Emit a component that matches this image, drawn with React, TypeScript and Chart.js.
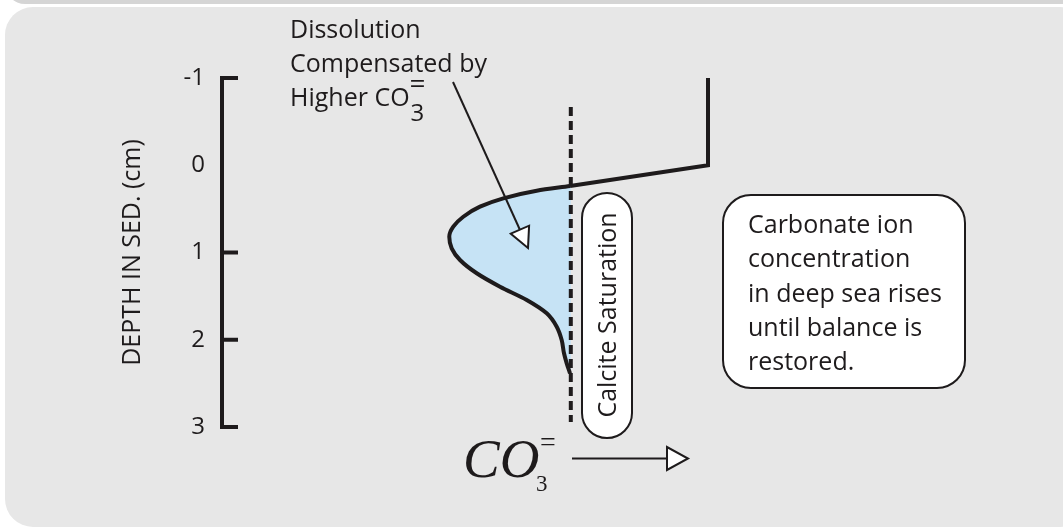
import React, { useEffect, useRef } from "react";
import { Chart, registerables } from "chart.js";

Chart.register(...registerables);

// ---- data ----
const depthTicks = [-1, 0, 1, 2, 3];
const tickMarkDepths = [-1, 1, 2, 3];
const depthRange = [-1, 3];
const co3Range = [0, 100];

// water column + sediment surface segment
const surfaceDepth = [-1, 0, 0.238];
const surfaceCO3 = [60.75, 60.75, 43.5];

// pore-water carbonate ion profile
const profileDepth = [0.238, 0.292, 0.379, 0.475, 0.59, 0.704, 0.819, 0.952, 1.086, 1.238, 1.392, 1.544, 1.697, 1.85, 2.003, 2.155, 2.27, 2.384];
const profileCO3 = [43.5, 39.34, 35.16, 32.25, 30.16, 28.91, 28.41, 28.71, 29.75, 31.84, 34.75, 38.09, 40.59, 41.84, 42.46, 42.75, 43.09, 43.5];

// calcite saturation level
const saturationCO3 = 43.6;
const saturationDepth = [-0.668, 2.943];

const INK = "#1e1b1c";
const SANS = '"Open Sans", "Noto Sans", sans-serif';
const SERIF = '"Liberation Serif", "DejaVu Serif", serif';

const boxLines = ["Carbonate ion", "concentration", "in deep sea rises", "until balance is", "restored."];
const noteLines = ["Dissolution", "Compensated by", "Higher CO"];

function rrect(ctx: CanvasRenderingContext2D, x: number, y: number, w: number, h: number, r: number) {
  ctx.beginPath();
  ctx.moveTo(x + r, y);
  ctx.lineTo(x + w - r, y);
  ctx.arcTo(x + w, y, x + w, y + r, r);
  ctx.lineTo(x + w, y + h - r);
  ctx.arcTo(x + w, y + h, x + w - r, y + h, r);
  ctx.lineTo(x + r, y + h);
  ctx.arcTo(x, y + h, x, y + h - r, r);
  ctx.lineTo(x, y + r);
  ctx.arcTo(x, y, x + r, y, r);
  ctx.closePath();
}

function hollowHead(ctx: CanvasRenderingContext2D, pts: number[][]) {
  ctx.beginPath();
  ctx.moveTo(pts[0][0], pts[0][1]);
  ctx.lineTo(pts[1][0], pts[1][1]);
  ctx.lineTo(pts[2][0], pts[2][1]);
  ctx.closePath();
  ctx.fillStyle = "#ffffff";
  ctx.fill();
  ctx.strokeStyle = INK;
  ctx.lineWidth = 2;
  ctx.lineJoin = "miter";
  ctx.stroke();
}

const backgroundPlugin = {
  id: "panelBackground",
  beforeDraw(chart: any) {
    const ctx = chart.ctx as CanvasRenderingContext2D;
    ctx.save();
    ctx.fillStyle = "#ffffff";
    ctx.fillRect(0, 0, chart.width, chart.height);
    ctx.fillStyle = "#d5d5d5";
    rrect(ctx, 5, -40, chart.width + 40, 44, 20);
    ctx.fill();
    ctx.fillStyle = "#e7e7e7";
    rrect(ctx, 5, 7, chart.width + 20, chart.height - 9, 28);
    ctx.fill();
    ctx.restore();
  },
};

const annotationPlugin = {
  id: "annotations",
  afterDraw(chart: any) {
    const ctx = chart.ctx as CanvasRenderingContext2D;
    const yScale = chart.scales.y;
    const axisX = yScale.right;
    ctx.save();

    // inward tick marks on depth axis
    ctx.strokeStyle = INK;
    ctx.lineWidth = 4;
    ctx.lineCap = "butt";
    tickMarkDepths.forEach((d) => {
      const py = yScale.getPixelForValue(d);
      ctx.beginPath();
      ctx.moveTo(axisX - 2, py);
      ctx.lineTo(axisX + 16, py);
      ctx.stroke();
    });

    // note text
    ctx.fillStyle = INK;
    ctx.textAlign = "left";
    ctx.textBaseline = "alphabetic";
    ctx.font = `25px ${SANS}`;
    noteLines.forEach((t, i) => ctx.fillText(t, 290, 38 + i * 34));
    const w = ctx.measureText(noteLines[2]).width;
    ctx.font = `24px ${SANS}`;
    ctx.fillText("3", 290 + w + 1, 121);
    ctx.font = `28px ${SANS}`;
    ctx.fillText("=", 290 + w, 93);

    // arrow into dissolution area
    ctx.strokeStyle = INK;
    ctx.lineWidth = 2;
    ctx.beginPath();
    ctx.moveTo(453, 82);
    ctx.lineTo(520, 230);
    ctx.stroke();
    hollowHead(ctx, [[510.8, 233.7], [529.1, 225.7], [528, 248]]);

    // calcite saturation pill
    rrect(ctx, 582, 193, 50, 245, 25);
    ctx.fillStyle = "#ffffff";
    ctx.fill();
    ctx.strokeStyle = INK;
    ctx.lineWidth = 2;
    ctx.stroke();
    ctx.save();
    ctx.translate(609, 315);
    ctx.rotate(-Math.PI / 2);
    ctx.fillStyle = INK;
    ctx.textAlign = "center";
    ctx.textBaseline = "middle";
    ctx.font = `25px ${SANS}`;
    ctx.fillText("Calcite Saturation", 0, 0);
    ctx.restore();

    // explanation box
    rrect(ctx, 723, 195, 242, 193, 28);
    ctx.fillStyle = "#ffffff";
    ctx.fill();
    ctx.strokeStyle = INK;
    ctx.lineWidth = 2;
    ctx.stroke();
    ctx.fillStyle = INK;
    ctx.textAlign = "left";
    ctx.textBaseline = "alphabetic";
    ctx.font = `25px ${SANS}`;
    boxLines.forEach((t, i) => ctx.fillText(t, 748, 233 + i * 34.3));

    // x axis label: CO3=
    ctx.font = `italic 55px ${SERIF}`;
    ctx.fillText("CO", 463, 477);
    ctx.font = `23px ${SERIF}`;
    ctx.fillText("3", 536, 491);
    ctx.font = `28px ${SERIF}`;
    ctx.fillText("=", 540, 451);

    // x direction arrow
    ctx.strokeStyle = INK;
    ctx.lineWidth = 2;
    ctx.beginPath();
    ctx.moveTo(572, 458.5);
    ctx.lineTo(668, 458.5);
    ctx.stroke();
    hollowHead(ctx, [[667, 447], [667, 470], [688, 458.5]]);

    ctx.restore();
  },
};

export default function App() {
  const canvasRef = useRef<HTMLCanvasElement | null>(null);

  useEffect(() => {
    const canvas = canvasRef.current;
    if (!canvas) return;
    const chart = new Chart(canvas, {
      type: "line",
      data: {
        datasets: [
          {
            label: "Calcite saturation",
            data: saturationDepth.map((d) => ({ x: saturationCO3, y: d })),
            borderColor: INK,
            borderWidth: 4,
            borderDash: [9, 5],
            pointRadius: 0,
            fill: false,
            clip: false,
          } as any,
          {
            label: "Bottom water",
            data: surfaceDepth.map((d, i) => ({ x: surfaceCO3[i], y: d })),
            borderColor: INK,
            borderWidth: 4,
            borderJoinStyle: "miter",
            pointRadius: 0,
            tension: 0,
            fill: false,
            clip: false,
          } as any,
          {
            label: "Pore water CO3",
            data: profileDepth.map((d, i) => ({ x: profileCO3[i], y: d })),
            borderColor: INK,
            borderWidth: 4,
            backgroundColor: "#c6e3f5",
            pointRadius: 0,
            cubicInterpolationMode: "monotone",
            fill: { value: saturationCO3 },
            clip: false,
          } as any,
        ],
      },
      options: {
        indexAxis: "y",
        animation: false,
        responsive: false,
        devicePixelRatio: 1,
        layout: { padding: { left: 117, right: 41, top: 78, bottom: 102 } },
        plugins: {
          legend: { display: false },
          tooltip: { enabled: false },
        },
        scales: {
          x: { type: "linear", min: co3Range[0], max: co3Range[1], display: false },
          y: {
            type: "linear",
            position: "left",
            min: depthRange[0],
            max: depthRange[1],
            reverse: true,
            afterFit: (s: any) => {
              s.width = 105;
            },
            afterBuildTicks: (s: any) => {
              s.ticks = depthTicks.map((v) => ({ value: v }));
            },
            ticks: {
              padding: 17,
              color: INK,
              font: { family: SANS, size: 24 },
            },
            grid: { display: false, drawTicks: false },
            border: { display: true, width: 4, color: INK },
            title: {
              display: true,
              text: "DEPTH IN SED. (cm)",
              color: INK,
              font: { family: SANS, size: 25 },
              padding: { top: 1, bottom: 0 },
            },
          },
        },
      } as any,
      plugins: [backgroundPlugin, annotationPlugin],
    });
    return () => chart.destroy();
  }, []);

  return (
    <div style={{ position: "fixed", left: 0, top: 0, width: 1063, height: 529 }}>
      <canvas ref={canvasRef} width={1063} height={529} style={{ display: "block" }} />
    </div>
  );
}
